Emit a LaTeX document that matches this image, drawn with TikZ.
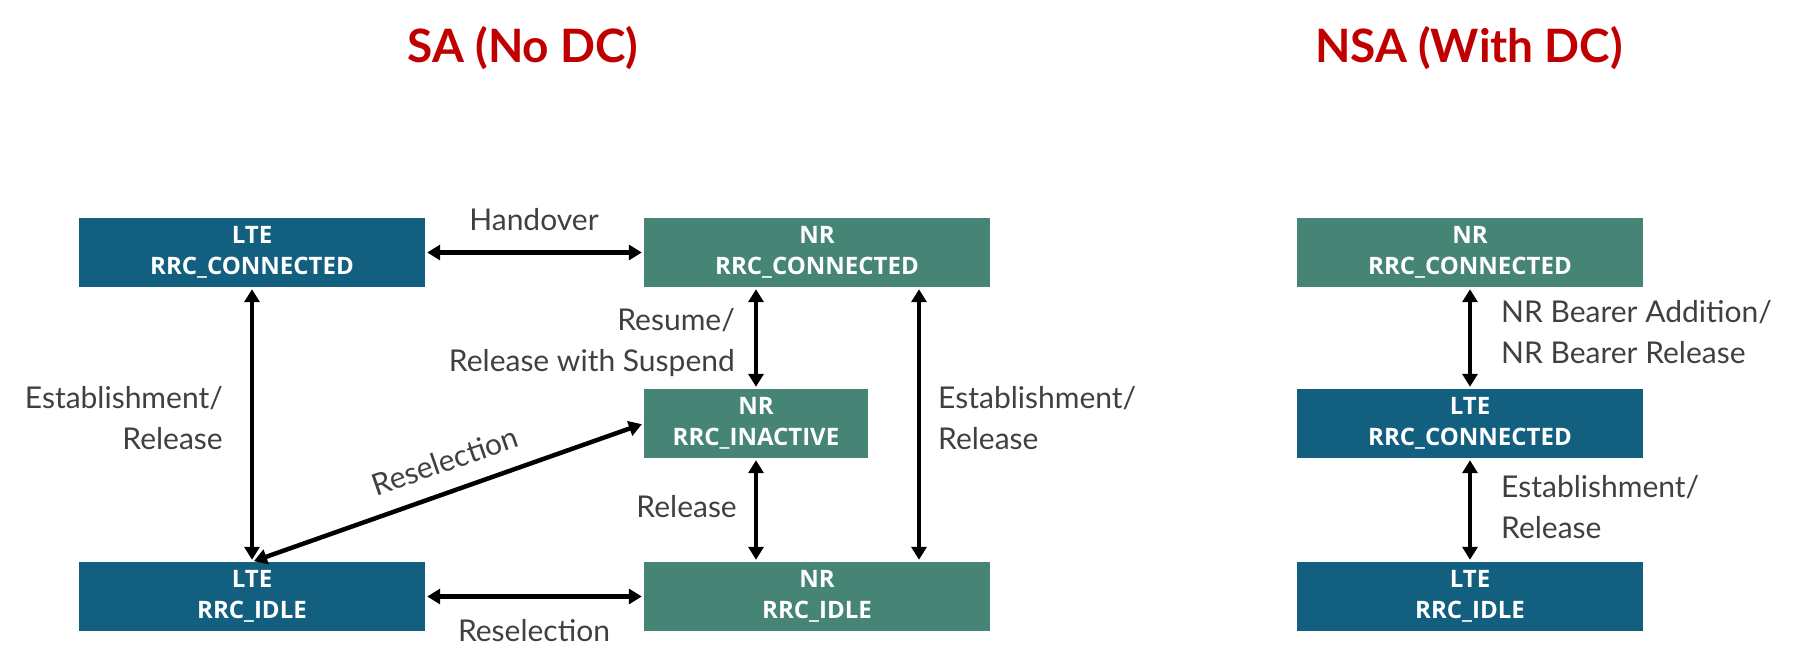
\documentclass[tikz,border=0pt]{standalone}
\usepackage{fontspec}
\setmainfont{Lato}
\newfontfamily\boxfont{Open Sans}
\usetikzlibrary{arrows.meta}
\definecolor{ltecol}{HTML}{135F80}
\definecolor{nrcol}{HTML}{468476}
\definecolor{titlecol}{HTML}{C00000}
\definecolor{labcol}{HTML}{404040}
\tikzset{
  statebox/.style={draw=none, inner sep=0pt, minimum height=69pt, align=center, text=white,
    font=\boxfont\fontsize{24}{31}\selectfont\bfseries},
  ltebox/.style={statebox, fill=ltecol},
  nrbox/.style={statebox, fill=nrcol},
  lab/.style={inner sep=0pt, text=labcol, font=\fontsize{30}{41}\selectfont},
  ttl/.style={inner sep=0pt, text=titlecol, font=\fontsize{46}{50}\selectfont\bfseries},
  conn/.style={line width=4.5pt, {Triangle[length=13pt,width=15pt]}-{Triangle[length=13pt,width=15pt]}, shorten <=2pt, shorten >=2pt}
}
\begin{document}
\begin{tikzpicture}[x=1pt,y=-1pt]
\useasboundingbox (0,0) rectangle (1815,671);
% titles
\node[ttl, anchor=base] (t1) at (523,63) {SA (No DC)};
\node[ttl, anchor=base] (t2) at (1469,63) {NSA (With DC)};
% SA boxes
\node[ltebox, minimum width=346pt] (lteC) at (252,252.5) {LTE\\RRC\_CONNECTED};
\node[nrbox, minimum width=346pt] (nrC) at (817,252.5) {NR\\RRC\_CONNECTED};
\node[nrbox, minimum width=224pt] (nrI) at (756,423.5) {NR\\RRC\_INACTIVE};
\node[ltebox, minimum width=346pt] (lteI) at (252,596.5) {LTE\\RRC\_IDLE};
\node[nrbox, minimum width=346pt] (nrIdle) at (817,596.5) {NR\\RRC\_IDLE};
% NSA boxes
\node[nrbox, minimum width=346pt] (nsaNR) at (1470,252.5) {NR\\RRC\_CONNECTED};
\node[ltebox, minimum width=346pt] (nsaLC) at (1470,423.5) {LTE\\RRC\_CONNECTED};
\node[ltebox, minimum width=346pt] (nsaLI) at (1470,596.5) {LTE\\RRC\_IDLE};
% connectors
\coordinate (rx) at (919,0);
\draw[conn] (lteC.east) -- (nrC.west);
\draw[conn] (lteI.east) -- (nrIdle.west);
\draw[conn] (lteC.south) -- (lteI.north);
\draw[conn] (nrI.north |- nrC.south) -- (nrI.north);
\draw[conn] (nrI.south) -- (nrI.south |- nrIdle.north);
\draw[conn] (rx |- nrC.south) -- (rx |- nrIdle.north);
\draw[conn] (lteI.north) -- (nrI.west);
\draw[conn] (nsaNR.south) -- (nsaLC.north);
\draw[conn] (nsaLC.south) -- (nsaLI.north);
% labels
\node[lab, anchor=base] (lHand) at (534,231) {Handover};
\node[lab, anchor=base] (lResB) at (534,641) {Reselection};
\node[lab, anchor=base east, align=right] (lResume) at (735,371) {Resume/\\Release with Suspend};
\node[lab, anchor=base east, align=right] (lEstL) at (223,449) {Establishment/\\Release};
\node[lab, anchor=base west, align=left] (lEstR) at (938,449) {Establishment/\\Release};
\node[lab, anchor=base east] (lRel) at (737,517) {Release};
\node[lab, rotate=19.2] (lResD) at (445,461) {Reselection};
\node[lab, anchor=base west, align=left] (lBear) at (1501,363) {NR Bearer Addition/\\NR Bearer Release};
\node[lab, anchor=base west, align=left] (lEstN) at (1501,538) {Establishment/\\Release};
\end{tikzpicture}
\end{document}
